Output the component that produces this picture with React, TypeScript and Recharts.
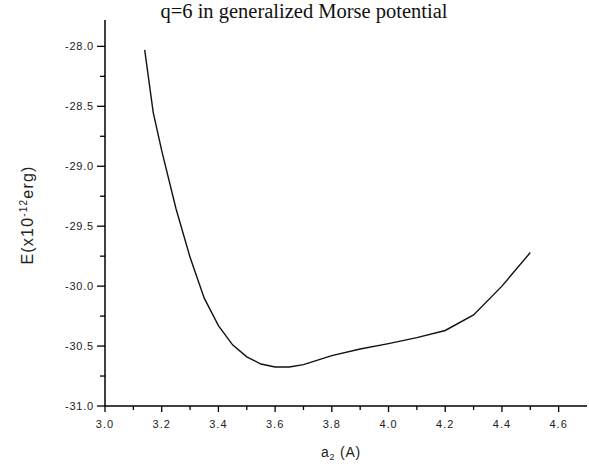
import React from 'react';
import { LineChart, Line, XAxis, YAxis, Customized } from 'recharts';

const radius = [3.14, 3.17, 3.2, 3.25, 3.3, 3.35, 3.4, 3.45, 3.5, 3.55, 3.6, 3.65, 3.7, 3.8, 3.9, 4.0, 4.1, 4.2, 4.3, 4.4, 4.5];
const energy = [-28.03, -28.55, -28.87, -29.35, -29.76, -30.1, -30.33, -30.49, -30.59, -30.65, -30.675, -30.675, -30.655, -30.58, -30.525, -30.48, -30.43, -30.37, -30.24, -30.0, -29.72];

const xTicks = [3.0, 3.1, 3.2, 3.3, 3.4, 3.5, 3.6, 3.7, 3.8, 3.9, 4.0, 4.1, 4.2, 4.3, 4.4, 4.5, 4.6, 4.7];
const yTicks = [-31.0, -30.75, -30.5, -30.25, -30.0, -29.75, -29.5, -29.25, -29.0, -28.75, -28.5, -28.25, -28.0];

const chartTitle = 'q=6 in generalized Morse potential';

const data = radius.map((r, i) => ({ r, e: energy[i] }));

const tickFont = '"Liberation Sans", Arial, sans-serif';

function XTick(props: any) {
  const { x, y, payload } = props;
  const v = payload.value as number;
  const major = Math.round(v * 10) % 2 === 0;
  if (v > 4.65) return null;
  return (
    <g>
      <line x1={x} x2={x} y1={y} y2={y + (major ? 6 : 4)} stroke="#000" strokeWidth={1.3} />
      {major && (
        <text x={x} y={y + 22} textAnchor="middle" fontSize={11} letterSpacing={1} fontFamily={tickFont} fill="#222">
          {v.toFixed(1)}
        </text>
      )}
    </g>
  );
}

function YTick(props: any) {
  const { x, y, payload } = props;
  const v = payload.value as number;
  const major = Math.round(v * 100) % 50 === 0;
  return (
    <g>
      <line x1={x - (major ? 8 : 5)} x2={x} y1={y} y2={y} stroke="#000" strokeWidth={1.3} />
      {major && (
        <text x={x - 11} y={y + 4} textAnchor="end" fontSize={11} letterSpacing={0.8} fontFamily={tickFont} fill="#222">
          {v.toFixed(1)}
        </text>
      )}
    </g>
  );
}

function Titles() {
  return (
    <g>
      <text
        x={304}
        y={18}
        textAnchor="middle"
        fontSize={20.5}
        fontFamily={'"Liberation Serif", "Times New Roman", serif'}
        fill="#111"
      >
        {chartTitle}
      </text>
      <g fontFamily={tickFont} fill="#222">
        <text x={33} y={215} transform="rotate(-90, 33, 215)" textAnchor="middle" fontSize={16} letterSpacing={1.2}>
          E(x10
          <tspan dy={-6} fontSize={10}>-12</tspan>
          <tspan dy={6}>erg)</tspan>
        </text>
        <text x={341} y={457} textAnchor="middle" fontSize={14} letterSpacing={0.8}>
          a
          <tspan dy={3} fontSize={9}>2</tspan>
          <tspan dy={-3}> (A)</tspan>
        </text>
      </g>
    </g>
  );
}

export default function App() {
  return (
    <div style={{ position: 'absolute', left: 0, top: 0, width: 589, height: 464, background: '#fff' }}>
      <LineChart width={589} height={464} data={data} margin={{ top: 20, right: 2, left: 0, bottom: 0 }}>
        <XAxis
          type="number"
          dataKey="r"
          domain={[3.0, 4.7]}
          ticks={xTicks}
          interval={0}
          height={58}
          tickSize={0}
          tickMargin={0}
          tickLine={false}
          axisLine={{ stroke: '#000', strokeWidth: 1.5 }}
          tick={<XTick />}
        />
        <YAxis
          type="number"
          dataKey="e"
          domain={[-31.0, -27.78]}
          ticks={yTicks}
          interval={0}
          width={105}
          tickSize={0}
          tickMargin={0}
          tickLine={false}
          axisLine={{ stroke: '#000', strokeWidth: 1.5 }}
          tick={<YTick />}
          allowDataOverflow
        />
        <Line
          type="linear"
          dataKey="e"
          stroke="#111"
          strokeWidth={1.4}
          dot={false}
          isAnimationActive={false}
        />
        <Customized component={Titles} />
      </LineChart>
    </div>
  );
}
